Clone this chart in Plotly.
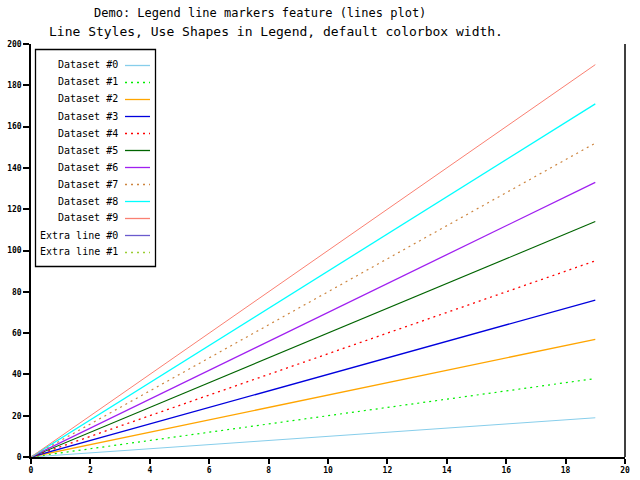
import plotly.graph_objects as go

x_vals = list(range(20))
series_names = ["Dataset #0", "Dataset #1", "Dataset #2", "Dataset #3", "Dataset #4",
                "Dataset #5", "Dataset #6", "Dataset #7", "Dataset #8", "Dataset #9",
                "Extra line #0", "Extra line #1"]
series_values = [
    [0, 1, 2, 3, 4, 5, 6, 7, 8, 9, 10, 11, 12, 13, 14, 15, 16, 17, 18, 19],
    [0, 2, 4, 6, 8, 10, 12, 14, 16, 18, 20, 22, 24, 26, 28, 30, 32, 34, 36, 38],
    [0, 3, 6, 9, 12, 15, 18, 21, 24, 27, 30, 33, 36, 39, 42, 45, 48, 51, 54, 57],
    [0, 4, 8, 12, 16, 20, 24, 28, 32, 36, 40, 44, 48, 52, 56, 60, 64, 68, 72, 76],
    [0, 5, 10, 15, 20, 25, 30, 35, 40, 45, 50, 55, 60, 65, 70, 75, 80, 85, 90, 95],
    [0, 6, 12, 18, 24, 30, 36, 42, 48, 54, 60, 66, 72, 78, 84, 90, 96, 102, 108, 114],
    [0, 7, 14, 21, 28, 35, 42, 49, 56, 63, 70, 77, 84, 91, 98, 105, 112, 119, 126, 133],
    [0, 8, 16, 24, 32, 40, 48, 56, 64, 72, 80, 88, 96, 104, 112, 120, 128, 136, 144, 152],
    [0, 9, 18, 27, 36, 45, 54, 63, 72, 81, 90, 99, 108, 117, 126, 135, 144, 153, 162, 171],
    [0, 10, 20, 30, 40, 50, 60, 70, 80, 90, 100, 110, 120, 130, 140, 150, 160, 170, 180, 190],
    [],
    [],
]
colors = ["#87CEEB", "#00EE00", "#FFA500", "#0000DD", "#FF0000", "#006400",
          "#A020F0", "#CD853F", "#00FFFF", "#FA8072", "#6A5ACD", "#9ACD32"]
dashes = ["solid", "2px,4px", "solid", "solid", "2px,4px", "solid",
          "solid", "2px,4px", "solid", "solid", "solid", "2px,4px"]
widths = [1, 1.2, 1.3, 1.3, 1.3, 1.1, 1.3, 1.2, 1.3, 1, 1, 1]
x_ticks = [0, 2, 4, 6, 8, 10, 12, 14, 16, 18, 20]
y_ticks = [0, 20, 40, 60, 80, 100, 120, 140, 160, 180, 200]
title_lines = ["Demo: Legend line markers feature (lines plot)",
               "Line Styles, Use Shapes in Legend, default colorbox width."]

W, H = 640, 480
L, R, T, B = 31, 15, 44, 23
pw, ph = W - L - R, H - T - B

def px_x(p):
    return (p - L) / pw

def px_y(p):
    return (H - B - p) / ph

fig = go.Figure()
for name, ys, c, d, w in zip(series_names, series_values, colors, dashes, widths):
    fig.add_trace(go.Scatter(x=x_vals[:len(ys)], y=ys, mode="lines", name=name,
                             line=dict(color=c, dash=d, width=w), showlegend=False,
                             hoverinfo="skip"))

mono = "DejaVu Sans Mono"
shapes = []
annotations = []
# legend box
shapes.append(dict(type="rect", xref="paper", yref="paper",
                   x0=px_x(35.5), x1=px_x(155.5), y0=px_y(266.5), y1=px_y(49.5),
                   line=dict(color="black", width=1.3), fillcolor="white", layer="above"))
for i, (name, c, d) in enumerate(zip(series_names, colors, dashes)):
    yc = 65 + 17 * i
    annotations.append(dict(xref="paper", yref="paper", x=px_x(120), y=px_y(yc),
                            xanchor="right", yanchor="middle", text=name, showarrow=False,
                            font=dict(family=mono, size=10, color="black")))
    shapes.append(dict(type="line", xref="paper", yref="paper",
                       x0=px_x(125), x1=px_x(150), y0=px_y(yc + 0.5), y1=px_y(yc + 0.5),
                       line=dict(color=c, dash=d, width=1.3), layer="above"))

# right border
shapes.append(dict(type="line", xref="paper", yref="paper", x0=1, x1=1, y0=0, y1=1,
                   line=dict(color="black", width=1.5)))

annotations.append(dict(xref="paper", yref="paper", x=px_x(260), y=px_y(13),
                        xanchor="center", yanchor="middle", text=title_lines[0], showarrow=False,
                        font=dict(family=mono, size=12, color="black")))
annotations.append(dict(xref="paper", yref="paper", x=px_x(276), y=px_y(32),
                        xanchor="center", yanchor="middle", text=title_lines[1], showarrow=False,
                        font=dict(family=mono, size=13, color="black")))

fig.update_layout(
    width=W, height=H, autosize=False,
    margin=dict(l=L, r=R, t=T, b=B, pad=0, autoexpand=False),
    paper_bgcolor="white", plot_bgcolor="white",
    shapes=shapes, annotations=annotations,
    xaxis=dict(range=[0, 20], tickvals=x_ticks, ticktext=[str(v) for v in x_ticks],
               automargin=False,
               showgrid=False, zeroline=False, showline=True, linecolor="black", linewidth=1.5,
               ticks="outside", ticklen=5, tickcolor="black", tickwidth=1.5,
               tickfont=dict(family=mono, size=8, color="black", weight="bold")),
    yaxis=dict(range=[0, 200], tickvals=y_ticks, ticktext=[str(v) for v in y_ticks],
               automargin=False,
               showgrid=False, zeroline=False, showline=True, linecolor="black", linewidth=1.5,
               ticks="outside", ticklen=6, tickcolor="black", tickwidth=1.5,
               tickfont=dict(family=mono, size=8, color="black", weight="bold")),
    showlegend=False,
)

fig.write_html("out.html", config={"displayModeBar": False},
               post_script="document.body.style.margin='0';document.body.style.padding='0';")
